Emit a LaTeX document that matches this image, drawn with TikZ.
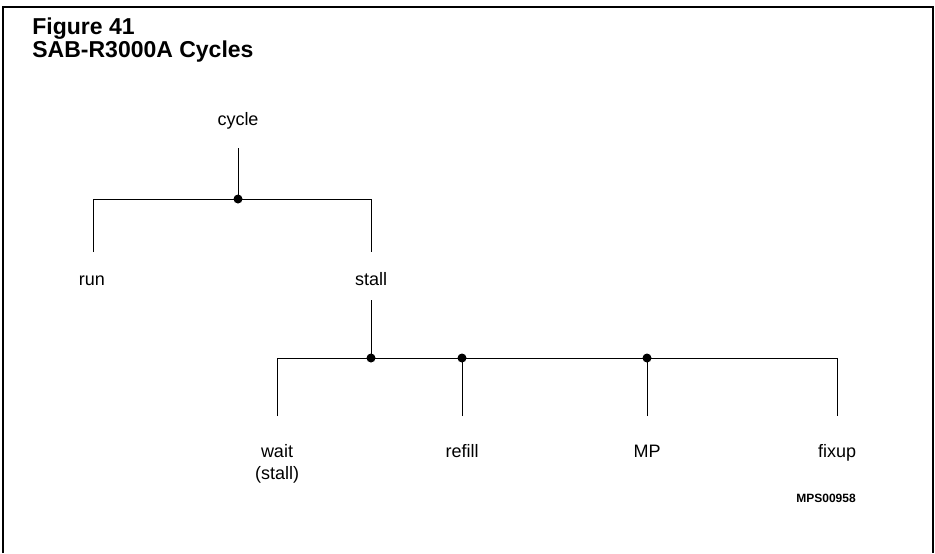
\documentclass[tikz,border=0pt]{standalone}
\usepackage{fontspec}
\setmainfont{Liberation Sans}
\usetikzlibrary{positioning,calc}

\begin{document}
\begin{tikzpicture}[x=0.5pt,y=-0.5pt,
    lbl/.style={font=\fontsize{9}{11}\selectfont,inner sep=0pt,anchor=base},
    hub/.style={circle,fill=black,inner sep=0pt,minimum size=4.5pt},
    tree/.style={line width=0.5pt}]
    \useasboundingbox (0,0) rectangle (935,553);
    % frame, open at the bottom
    \draw[line width=1pt] (3,553) -- (3,7) -- (933,7) -- (933,553);

    \node[anchor=base west,inner sep=0pt,font=\fontsize{11.5}{13}\selectfont\bfseries] (fig) at (32,34) {Figure 41};
    \node[anchor=base west,inner sep=0pt,font=\fontsize{11.5}{13}\selectfont\bfseries] (title) at (32,57) {SAB-R3000A Cycles};

    % first level
    \node[lbl] (cycle) at (238,125) {cycle};
    \node[lbl] (run) at (92,285) {run};
    \node[lbl] (stall) at (371,285) {stall};
    \coordinate (cycle-foot) at (238,148);
    \coordinate (run-end) at (93,252);
    \coordinate (stall-end) at (371,252);
    \node[hub] (cyclehub) at (238,199) {};
    \draw[tree] (cycle-foot) -- (cyclehub.center);
    \draw[tree] (run-end) |- (cyclehub.center) -| (stall-end);

    % second level
    \foreach \x/\name/\txt in {277/wait/wait, 462/refill/refill, 647/mp/MP, 837/fixup/fixup} {
        \node[lbl] (\name) at (\x,457) {\txt};
        \coordinate (\name-end) at (\x,416);
    }
    \node[lbl] (waitsub) at (277,479) {(stall)};
    \coordinate (stall-foot) at (371,300);
    \node[hub] (stallhub) at (371,358) {};
    \node[hub] (refillhub) at (462,358) {};
    \node[hub] (mphub) at (647,358) {};
    \draw[tree] (stall-foot) -- (stallhub.center);
    \draw[tree] (wait-end) |- (stallhub.center) -| (fixup-end);
    \draw[tree] (refill-end) -- (refillhub.center);
    \draw[tree] (mp-end) -- (mphub.center);

    \node[anchor=base,inner sep=0pt,font=\fontsize{6}{7}\selectfont\bfseries] (figid) at (826,502) {MPS00958};
\end{tikzpicture}
\end{document}
